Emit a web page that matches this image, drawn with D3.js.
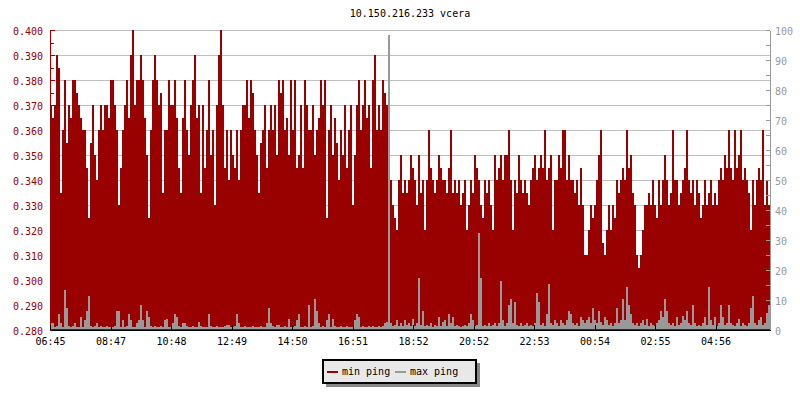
<!DOCTYPE html>
<html>
<head>
<meta charset="utf-8">
<script src="https://cdn.jsdelivr.net/npm/d3@7"></script>
<style>
  body { margin: 0; background: #fff; }
  svg { display: block; }
  text { font-family: 'DejaVu Sans Mono', monospace; font-size: 10px; }
</style>
</head>
<body>
<div id="chart"></div>
<script>
// min ping in microseconds, one sample every 4 minutes starting 06:45
var minPingUs = [
  370,365,370,390,385,335,360,380,355,370, 365,380,380,375,370,365,360,360,345,325,
  355,370,350,340,360,370,360,370,370,365, 380,380,370,360,330,345,360,370,380,365,
  390,400,370,380,380,390,380,365,350,325, 360,380,390,380,370,375,335,360,360,380,
  370,370,380,365,345,335,365,380,360,350, 370,380,390,365,370,335,370,345,360,380,
  350,360,330,370,390,400,370,345,360,340, 360,350,345,360,340,360,370,370,380,365,
  380,375,360,350,335,355,360,370,345,360, 370,360,370,350,380,375,380,360,365,350,
  380,360,380,345,350,370,345,380,370,360, 360,370,350,360,365,380,370,380,325,360,
  370,350,365,355,340,360,350,370,345,360, 370,330,350,370,380,360,370,380,365,370,
  345,380,390,360,370,360,380,375,370,
  350,340,330,325,320,340,350,335,340,335, 340,350,345,340,330,350,335,340,320,340,
  360,345,340,335,340,350,345,340,340,335, 345,360,335,340,335,340,330,335,340,320,
  330,340,335,350,345,340,330,325,340,335, 340,330,320,350,340,345,350,340,350,350,
  360,340,320,340,335,350,340,335,340,335, 330,340,345,350,340,345,350,345,360,340,
  345,350,320,340,340,350,345,360,360,340, 350,340,340,335,340,330,345,330,310,310,
  320,330,325,330,340,350,360,315,310,320, 330,320,330,325,340,335,340,345,340,360,
  345,350,335,330,310,305,310,320,330,330, 335,330,340,330,325,340,330,340,350,340,
  330,335,360,340,340,330,335,340,345,360, 340,335,340,330,340,335,325,330,340,330,
  335,340,330,335,330,340,345,340,350,345, 360,345,340,360,345,350,360,340,345,340,
  335,320,340,330,340,345,340,360,330,340,330
];

// max ping in ms, same samples
var maxPing = [
  2,2,0.6,1,5,2,0.6,13,7,1, 0.6,1,2,0.6,0.6,4,0.6,3,6,11,
  1,0.6,1,2,0.6,1,0.6,0.6,1,0.6, 0.6,0.6,1,6,6,0.6,3,0.6,1,5,
  3,0.6,0.6,2,3,8,3,0.6,6,4, 1,0.6,1,0.6,0.6,1,0.6,3,3.5,0.6,
  0.6,2,5,4,1,0.6,2,2,1,0.6, 0.6,1,0.6,0.6,2.5,1,0.6,0.6,0.6,5,
  1,0.6,0.6,1,0.6,0.6,0.6,1,1.5,1.5, 0.6,0.6,1,5,2,0.6,0.6,1,0.6,0.6,
  0.6,1,0.6,0.6,0.6,1,0.6,0.6,2,7, 2,1,0.6,1.5,1.5,0.6,0.6,1,0.6,3.5,
  0.6,0.6,1,3,5,0.6,0.6,1,0.6,8, 0.6,1,10,6,2,0.6,1,0.6,3,5,
  0.6,3.5,1,0.6,0.6,1,0.6,0.6,1,0.6, 0.6,0.6,3,5,4,0.6,1,0.6,0.6,1,
  0.6,1,0.6,0.6,1,0.6,1,2,2.5,
  98,2,1,1.5,3,1,2,1,3,1.5, 2,1,3.5,1,2,17,1.5,6,1,1.5,
  1,2,0.8,1.5,1,4,1,2.5,3,1, 5,2,4,1,1.5,1,0.8,1,1.5,1,
  2,5,3,1,1.5,32,17,1,1.5,1, 2,1,1.5,2,1,2,16,3,1,2,
  8,10,2,9,1.5,1,2,1,1.5,2, 1,1.5,1,2,12,9,1.5,2,1,5,
  15,2,1.5,3,2,1,3,2,1.5,3, 6,5,2,1.5,2,1,4,3,2,3,
  4,2,7,3,2,6,2.5,1.5,4,3, 1.5,2,1,2,7,2,3,10,3,14,
  8,5,2,1.5,2,1,2,3,1.5,3.5, 1,2,1.5,1,2,3,6,4,10,6,
  2,1.5,2,1,4,1.5,2,4.5,3,6, 2,1.5,8,2,1,1.5,1,2,4,1.5,
  14,3,1.5,4,1,2,8,4,1.5,2, 8,2,1.5,1,2,3.5,1,2,1.5,1,
  2,7,11,2,1.5,3,4,1.5,2,5.5,8
];

var xTickLabels = ["06:45","08:47","10:48","12:49","14:50","16:51",
                   "18:52","20:52","22:53","00:54","02:55","04:56"];
var leftTicks = [0.28,0.29,0.30,0.31,0.32,0.33,0.34,0.35,0.36,0.37,0.38,0.39,0.40];
var rightTicks = [0,10,20,30,40,50,60,70,80,90,100];

var W = 800, H = 400;
var margin = {top: 30, right: 30, bottom: 70, left: 50};
var width = W - margin.left - margin.right,
    height = H - margin.top - margin.bottom;

var red = "#990000", gray = "#999999";

var data = minPingUs.map(function (v, i) {
  return {t: i * 4, min: v / 1000, max: maxPing[i]};
});
data.push({t: 1440, min: data[data.length - 1].min, max: data[data.length - 1].max});

var svg = d3.select("#chart").append("svg")
  .attr("width", W)
  .attr("height", H);

svg.append("text")
  .attr("x", margin.left + width / 2)
  .attr("y", 17)
  .attr("text-anchor", "middle")
  .attr("fill", "#000")
  .text("10.150.216.233 vcera");

var g = svg.append("g")
  .attr("transform", "translate(" + margin.left + "," + margin.top + ")")
  .style("shape-rendering", "crispEdges");

var x = d3.scaleLinear().domain([0, 1440]).range([0, width]);
var yL = d3.scaleLinear().domain([0.28, 0.40]).range([height, 0]);
var yR = d3.scaleLinear().domain([0, 100]).range([height, 0]);

// grid
g.selectAll(".grid")
  .data(leftTicks.slice(1))
  .enter().append("line")
  .attr("x1", 0)
  .attr("x2", width)
  .attr("y1", function (d) { return Math.round(yL(d)) + 0.5; })
  .attr("y2", function (d) { return Math.round(yL(d)) + 0.5; })
  .attr("stroke", "#c0c0c0");

var area = d3.area()
  .curve(d3.curveStepAfter)
  .x(function (d) { return x(d.t); })
  .y0(yL(0.28))
  .y1(function (d) { return yL(d.min); });

g.append("path")
  .datum(data)
  .attr("fill", red)
  .attr("d", area);

// max ping drawn as thin filled steps so spikes look solid
var maxArea = d3.area()
  .curve(d3.curveStepAfter)
  .x(function (d) { return x(d.t); })
  .y0(yR(0) - 1)
  .y1(function (d) { return yR(d.max) - 1; });

g.append("path")
  .datum(data)
  .attr("fill", gray)
  .attr("d", maxArea);

// left axis
var minorL = d3.range(0.285, 0.4, 0.01);
g.append("g")
  .call(d3.axisLeft(yL).tickValues(minorL).tickSize(-4).tickFormat(""))
  .call(function (a) { a.select(".domain").remove(); })
  .selectAll("line").attr("stroke", red);

var axL = g.append("g")
  .call(d3.axisLeft(yL).tickValues(leftTicks).tickSize(-5).tickSizeOuter(0)
    .tickPadding(7).tickFormat(d3.format(".3f")));
axL.select(".domain").attr("stroke", red);
axL.selectAll("line").attr("stroke", red);
axL.selectAll("text")
  .attr("fill", red)
  .attr("dy", "0.45em")
  .style("font-family", "'DejaVu Sans Mono', monospace")
  .style("font-size", "10px");

// right axis
var minorR = d3.range(5, 100, 10);
g.append("g")
  .attr("transform", "translate(" + width + ",0)")
  .call(d3.axisRight(yR).tickValues(minorR).tickSize(-4).tickFormat(""))
  .call(function (a) { a.select(".domain").remove(); })
  .selectAll("line").attr("stroke", gray);

var axR = g.append("g")
  .attr("transform", "translate(" + width + ",0)")
  .call(d3.axisRight(yR).tickValues(rightTicks).tickSize(-4).tickSizeOuter(0).tickPadding(5));
axR.select(".domain").attr("stroke", gray);
axR.selectAll("line").attr("stroke", gray);
axR.selectAll("text")
  .attr("fill", gray)
  .attr("dy", "0.45em")
  .style("font-family", "'DejaVu Sans Mono', monospace")
  .style("font-size", "10px");

// bottom axis
var axB = g.append("g")
  .attr("transform", "translate(0," + height + ")")
  .call(d3.axisBottom(x)
    .tickValues(xTickLabels.map(function (d, i) { return i * 121; }))
    .tickFormat(function (d, i) { return xTickLabels[i]; })
    .tickSize(-5).tickSizeOuter(0).tickPadding(8));
axB.select(".domain").attr("stroke", "#000");
axB.selectAll("line").attr("stroke", "#000");
axB.selectAll("text")
  .attr("fill", "#000")
  .style("font-family", "'DejaVu Sans Mono', monospace")
  .style("font-size", "10px");

// legend
var legend = svg.append("g").style("shape-rendering", "crispEdges");
legend.append("rect")
  .attr("x", 326).attr("y", 363)
  .attr("width", 154).attr("height", 24)
  .attr("fill", "#888");
legend.append("rect")
  .attr("x", 323).attr("y", 360)
  .attr("width", 153).attr("height", 23)
  .attr("fill", "#e8e8e8")
  .attr("stroke", "#000")
  .attr("stroke-width", 2);

var items = [{name: "min ping", color: red, x: 327}, {name: "max ping", color: gray, x: 395}];
items.forEach(function (it) {
  legend.append("line")
    .attr("x1", it.x).attr("x2", it.x + 11)
    .attr("y1", 371.5).attr("y2", 371.5)
    .attr("stroke", it.color)
    .attr("stroke-width", 2);
  legend.append("text")
    .attr("x", it.x + 15)
    .attr("y", 375)
    .attr("fill", "#000")
    .text(it.name);
});
</script>
</body>
</html>
